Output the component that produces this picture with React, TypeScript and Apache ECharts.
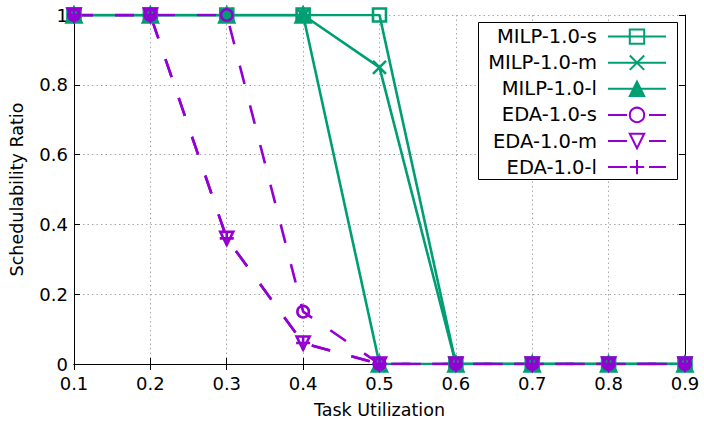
import React, { useEffect, useRef } from "react";
import * as echarts from "echarts";

const utilization = [0.1, 0.2, 0.3, 0.4, 0.5, 0.6, 0.7, 0.8, 0.9];
const milpS = [1, 1, 1, 1, 1, 0, 0, 0, 0];
const milpM = [1, 1, 1, 1, 0.85, 0, 0, 0, 0];
const milpL = [1, 1, 1, 1, 0, 0, 0, 0, 0];
const edaS = [1, 1, 1, 0.15, 0, 0, 0, 0, 0];
const edaM = [1, 1, 0.36, 0.06, 0, 0, 0, 0, 0];
const edaL = [1, 1, 0.36, 0.06, 0, 0, 0, 0, 0];
const seriesNames = ["MILP-1.0-s", "MILP-1.0-m", "MILP-1.0-l", "EDA-1.0-s", "EDA-1.0-m", "EDA-1.0-l"];

const GREEN = "#009e73";
const PURPLE = "#9400d3";
const FONT = "DejaVu Sans";

const CROSS = "path://M0,0L10,10M10,0L0,10";
const PLUS = "path://M5,0L5,10M0,5L10,5";

function pairs(values: number[]) {
  return utilization.map((u, i) => [u, values[i]]);
}

// open markers keep a see-through interior; filled ones take the series colour
function makeSeries(
  name: string,
  values: number[],
  color: string,
  symbol: string,
  symbolSize: number,
  dashed: boolean,
  open: boolean,
  rotate = 0
) {
  return {
    name,
    type: "line",
    data: pairs(values),
    symbol,
    symbolSize,
    symbolRotate: rotate,
    showAllSymbol: true,
    lineStyle: { color, width: 2.6, type: dashed ? [19, 22] : "solid" },
    itemStyle: {
      color: open ? "rgba(255,255,255,0)" : color,
      borderColor: color,
      borderWidth: 2.6,
    },
    emphasis: { disabled: true },
  };
}

export default function App() {
  const ref = useRef<HTMLDivElement>(null);

  useEffect(() => {
    if (!ref.current) return;
    const chart = echarts.init(ref.current, undefined, { renderer: "svg" });

    const rowTop = 36.6;
    const rowGap = 26.1;
    const legends = seriesNames.map((name, i) => ({
      data: [name],
      right: 37,
      top: rowTop + i * rowGap - 10,
      align: "right",
      orient: "horizontal",
      itemWidth: 58,
      itemHeight: 18,
      padding: 0,
      itemGap: 0,
      selectedMode: false,
      symbolRotate: "inherit",
      z: 5,
      textStyle: {
        fontFamily: FONT,
        fontSize: 19.5,
        color: "#000",
        lineHeight: 20,
        padding: [0, 6, 0, 0],
      },
    }));

    const tickLabel = (v: number) => (v === 0 ? "0" : v === 1 ? "1" : v.toFixed(1));

    chart.setOption({
      animation: false,
      backgroundColor: "#fff",
      grid: { left: 74, right: 19, top: 15, bottom: 59, containLabel: false },
      legend: legends,
      graphic: [
        {
          type: "rect",
          shape: { x: 478.5, y: 22.5, width: 199, height: 157 },
          style: { fill: "#fff", stroke: "#000", lineWidth: 1 },
          z: 4,
        },
      ],
      xAxis: [
        {
          type: "value",
          min: 0.1,
          max: 0.9,
          interval: 0.1,
          name: "Task Utilization",
          nameLocation: "middle",
          nameGap: 37,
          nameTextStyle: { fontFamily: FONT, fontSize: 17.5, color: "#000" },
          axisLine: { show: true, lineStyle: { color: "#000", width: 1 } },
          axisTick: { show: true, inside: true, length: 6, lineStyle: { color: "#000" } },
          axisLabel: {
            fontFamily: FONT,
            fontSize: 18,
            color: "#000",
            margin: 10,
            formatter: tickLabel,
          },
          splitLine: { show: true, lineStyle: { color: "#a8a8a8", type: [1.5, 3], width: 1 } },
        },
        {
          type: "value",
          position: "top",
          min: 0.1,
          max: 0.9,
          interval: 0.1,
          axisLine: { show: true, lineStyle: { color: "#000", width: 1 } },
          axisTick: { show: true, inside: true, length: 6, lineStyle: { color: "#000" } },
          axisLabel: { show: false },
          splitLine: { show: false },
        },
      ],
      yAxis: [
        {
          type: "value",
          min: 0,
          max: 1,
          interval: 0.2,
          name: "Schedulability Ratio",
          nameLocation: "middle",
          nameGap: 48,
          nameTextStyle: { fontFamily: FONT, fontSize: 17.5, color: "#000" },
          axisLine: { show: true, lineStyle: { color: "#000", width: 1 } },
          axisTick: { show: true, inside: true, length: 6, lineStyle: { color: "#000" } },
          axisLabel: {
            fontFamily: FONT,
            fontSize: 18,
            color: "#000",
            margin: 6,
            formatter: tickLabel,
          },
          splitLine: { show: true, lineStyle: { color: "#a8a8a8", type: [1.5, 3], width: 1 } },
        },
        {
          type: "value",
          position: "right",
          min: 0,
          max: 1,
          interval: 0.2,
          axisLine: { show: true, lineStyle: { color: "#000", width: 1 } },
          axisTick: { show: true, inside: true, length: 6, lineStyle: { color: "#000" } },
          axisLabel: { show: false },
          splitLine: { show: false },
        },
      ],
      series: [
        makeSeries(seriesNames[0], milpS, GREEN, "rect", 13, false, true),
        makeSeries(seriesNames[1], milpM, GREEN, CROSS, 13, false, false),
        makeSeries(seriesNames[2], milpL, GREEN, "triangle", 15, false, false),
        makeSeries(seriesNames[3], edaS, PURPLE, "circle", 11.5, true, true),
        makeSeries(seriesNames[4], edaM, PURPLE, "triangle", 13, true, true, 180),
        makeSeries(seriesNames[5], edaL, PURPLE, PLUS, 14, true, false),
      ],
    });

    return () => chart.dispose();
  }, []);

  return <div ref={ref} style={{ width: 704, height: 424, position: "absolute", left: 0, top: 0 }} />;
}
